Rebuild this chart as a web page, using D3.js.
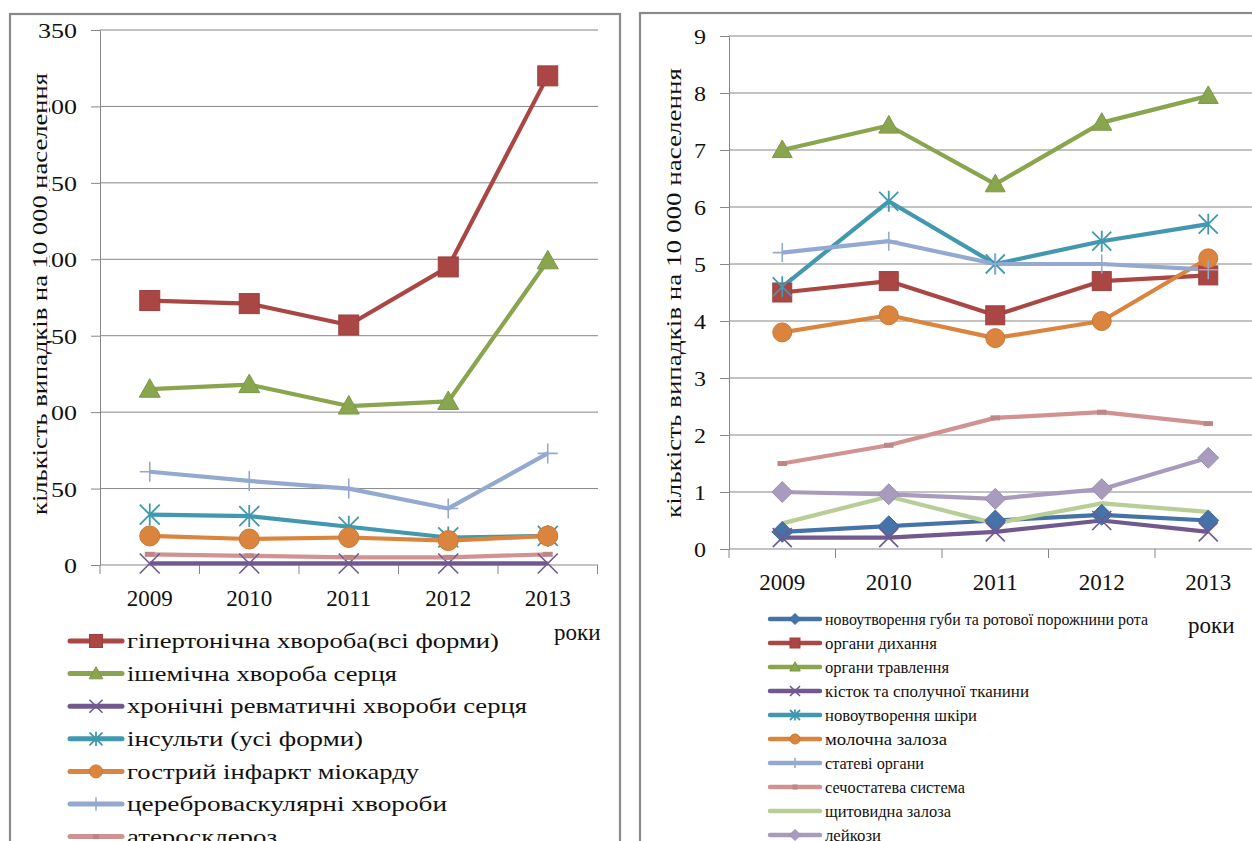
<!DOCTYPE html>
<html>
<head>
<meta charset="utf-8">
<script src="https://cdn.jsdelivr.net/npm/d3@7"></script>
<style>
  html, body { margin: 0; padding: 0; background: #fff; }
  svg { display: block; }
  svg text { font-family: "Liberation Serif", "Times New Roman", serif; }
</style>
</head>
<body>
<svg id="chart" width="1252" height="841"></svg>
<script>
// Years on the horizontal axis
const years = ["2009", "2010", "2011", "2012", "2013"];

// Circulatory diseases, cases per 10 000 population
const circNames = [
  "гіпертонічна хвороба(всі форми)",
  "ішемічна хвороба серця",
  "хронічні ревматичні хвороби серця",
  "інсульти (усі форми)",
  "гострий інфаркт міокарду",
  "цереброваскулярні хвороби",
  "атеросклероз"
];
const hypertension    = [173, 171, 157, 195, 320];
const ischemic        = [115, 118, 104, 107, 199];
const rheumatic       = [1, 1, 1, 1, 1];
const strokes         = [33, 32, 25, 18, 19];
const infarction      = [19, 17, 18, 16, 19];
const cerebrovascular = [61, 55, 50, 37, 73];
const atherosclerosis = [7, 6, 5, 5, 7];
const circTicks = [0, 50, 100, 150, 200, 250, 300, 350];

// Neoplasms by site, cases per 10 000 population
const neoNames = [
  "новоутворення губи та ротової порожнини рота",
  "органи дихання",
  "органи травлення",
  "кісток та сполучної тканини",
  "новоутворення шкіри",
  "молочна залоза",
  "статеві органи",
  "сечостатева система",
  "щитовидна залоза",
  "лейкози"
];
const lipOral     = [0.3, 0.4, 0.5, 0.6, 0.5];
const respiratory = [4.5, 4.7, 4.1, 4.7, 4.8];
const digestive   = [7.0, 7.43, 6.4, 7.48, 7.95];
const boneTissue  = [0.2, 0.2, 0.3, 0.5, 0.3];
const skin        = [4.6, 6.1, 5.0, 5.4, 5.7];
const breast      = [3.8, 4.1, 3.7, 4.0, 5.1];
const genital     = [5.2, 5.4, 5.0, 5.0, 4.9];
const urogenital  = [1.5, 1.82, 2.3, 2.4, 2.2];
const thyroid     = [0.45, 0.92, 0.45, 0.8, 0.65];
const leukemia    = [1.0, 0.96, 0.88, 1.05, 1.6];
const neoTicks = [0, 1, 2, 3, 4, 5, 6, 7, 8, 9];

const axisTitle = "кількість випадків на 10 000 населення";
const xTitle = "роки";

// Series styling
const circSeries = [
  { name: circNames[0], values: hypertension,    color: "#AA4643", marker: "square" },
  { name: circNames[1], values: ischemic,        color: "#89A54E", marker: "triangle" },
  { name: circNames[2], values: rheumatic,       color: "#71588F", marker: "x" },
  { name: circNames[3], values: strokes,         color: "#4198AF", marker: "star" },
  { name: circNames[4], values: infarction,      color: "#DB843D", marker: "circle" },
  { name: circNames[5], values: cerebrovascular, color: "#93A9CF", marker: "plus" },
  { name: circNames[6], values: atherosclerosis, color: "#D19392", marker: "dash" }
];
const neoSeries = [
  { name: neoNames[0], values: lipOral,     color: "#4572A7", marker: "diamond" },
  { name: neoNames[1], values: respiratory, color: "#AA4643", marker: "square" },
  { name: neoNames[2], values: digestive,   color: "#89A54E", marker: "triangle" },
  { name: neoNames[3], values: boneTissue,  color: "#71588F", marker: "x" },
  { name: neoNames[4], values: skin,        color: "#4198AF", marker: "star" },
  { name: neoNames[5], values: breast,      color: "#DB843D", marker: "circle" },
  { name: neoNames[6], values: genital,     color: "#93A9CF", marker: "plus" },
  { name: neoNames[7], values: urogenital,  color: "#D19392", marker: "dash" },
  { name: neoNames[8], values: thyroid,     color: "#B9CD96", marker: "none" },
  { name: neoNames[9], values: leukemia,    color: "#A99BBD", marker: "diamond" }
];

const serif = "Liberation Serif, Times New Roman, serif";
const svg = d3.select("#chart").attr("font-family", serif);
const gridColor = "#878787";

// Draws one marker of the given shape centred on (cx, cy)
function drawMarker(g, shape, cx, cy, size, color) {
  const h = size / 2;
  const dark = d3.color(color).darker(0.25).formatHex();
  switch (shape) {
    case "square":
      g.append("rect").attr("x", cx - h).attr("y", cy - h).attr("width", size).attr("height", size)
        .attr("fill", color).attr("stroke", dark).attr("stroke-width", 1);
      break;
    case "triangle":
      g.append("path").attr("d", `M${cx},${cy - h * 1.05}L${cx + h * 1.05},${cy + h * 0.8}L${cx - h * 1.05},${cy + h * 0.8}Z`)
        .attr("fill", color).attr("stroke", dark).attr("stroke-width", 1);
      break;
    case "circle":
      g.append("circle").attr("cx", cx).attr("cy", cy).attr("r", h)
        .attr("fill", color).attr("stroke", dark).attr("stroke-width", 1);
      break;
    case "diamond":
      g.append("path").attr("d", `M${cx},${cy - h * 1.1}L${cx + h * 1.1},${cy}L${cx},${cy + h * 1.1}L${cx - h * 1.1},${cy}Z`)
        .attr("fill", color).attr("stroke", dark).attr("stroke-width", 1);
      break;
    case "x":
      g.append("path").attr("d", `M${cx - h},${cy - h}L${cx + h},${cy + h}M${cx - h},${cy + h}L${cx + h},${cy - h}`)
        .attr("stroke", color).attr("stroke-width", 1.6).attr("fill", "none");
      break;
    case "star":
      g.append("path").attr("d", `M${cx - h},${cy - h}L${cx + h},${cy + h}M${cx - h},${cy + h}L${cx + h},${cy - h}M${cx},${cy - h * 1.1}L${cx},${cy + h * 1.1}`)
        .attr("stroke", color).attr("stroke-width", 1.8).attr("fill", "none");
      break;
    case "plus":
      g.append("path").attr("d", `M${cx - h},${cy}L${cx + h},${cy}M${cx},${cy - h}L${cx},${cy + h}`)
        .attr("stroke", color).attr("stroke-width", 1.6).attr("fill", "none");
      break;
    case "dash":
      g.append("rect").attr("x", cx - h * 0.5).attr("y", cy - 2.5).attr("width", h).attr("height", 5)
        .attr("fill", dark);
      break;
  }
}

// Builds one line chart panel
function drawPanel(cfg) {
  const g = svg.append("g");

  // panel frame
  g.append("rect").attr("x", cfg.frame[0]).attr("y", cfg.frame[1])
    .attr("width", cfg.frame[2]).attr("height", cfg.frame[3])
    .attr("fill", "none").attr("stroke", "#8a8a8a").attr("stroke-width", 2.2);

  const x = d3.scaleBand().domain(years).range([cfg.left, cfg.left + cfg.band * years.length]).padding(0);
  const y = d3.scaleLinear().domain(cfg.domain).range([cfg.bottom, cfg.top]);
  const cx = d => x(d) + x.bandwidth() / 2;

  // gridlines
  g.append("g").selectAll("line").data(cfg.ticks.filter(t => t !== 0)).join("line")
    .attr("x1", cfg.left).attr("x2", cfg.gridEnd)
    .attr("y1", d => y(d)).attr("y2", d => y(d))
    .attr("stroke", gridColor).attr("stroke-width", 1);

  // y axis
  const yAxis = g.append("g").attr("transform", `translate(${cfg.left},0)`)
    .call(d3.axisLeft(y).tickValues(cfg.ticks).tickSize(9).tickSizeOuter(0).tickPadding(cfg.yPad));
  yAxis.attr("font-family", serif);
  yAxis.select(".domain").attr("stroke", gridColor);
  yAxis.selectAll(".tick line").attr("stroke", gridColor);
  yAxis.selectAll(".tick text").attr("font-size", cfg.tickFont).attr("fill", "#111")
    .attr("dy", "0.34em")
    .attr("textLength", d => String(d).length * cfg.digitW)
    .attr("lengthAdjust", "spacingAndGlyphs");

  // x axis
  const xAxis = g.append("g").attr("transform", `translate(0,${cfg.bottom})`);
  xAxis.append("line").attr("x1", cfg.left).attr("x2", cfg.gridEnd)
    .attr("y1", 0).attr("y2", 0).attr("stroke", gridColor);
  const bounds = years.map(d => x(d)).concat([x(years[years.length - 1]) + x.bandwidth()]);
  xAxis.selectAll("line.tk").data(bounds).join("line").attr("class", "tk")
    .attr("x1", d => d).attr("x2", d => d).attr("y1", 0).attr("y2", 9).attr("stroke", gridColor);
  xAxis.selectAll("text").data(years).join("text")
    .attr("x", d => cx(d)).attr("y", cfg.xLabelGap).attr("text-anchor", "middle")
    .attr("font-size", 23).attr("fill", "#111").text(d => d);

  // y axis title (masks whatever sits beneath it)
  const tg = g.append("g").attr("transform", `translate(${cfg.titleX},${cfg.titleY}) rotate(-90)`);
  if (cfg.titleMask) {
    tg.append("rect").attr("x", -cfg.titleLen / 2).attr("y", -9).attr("width", cfg.titleLen).attr("height", 18).attr("fill", "#fff");
  }
  tg.append("text").attr("x", 0).attr("y", 0).attr("text-anchor", "middle")
    .attr("font-size", 21).attr("fill", "#111")
    .attr("textLength", cfg.titleLen).attr("lengthAdjust", "spacingAndGlyphs")
    .attr("dy", "0.32em").text(axisTitle);

  // lines
  const line = d3.line().x((d, i) => cx(years[i])).y(d => y(d));
  cfg.series.forEach(s => {
    g.append("path").datum(s.values).attr("d", line)
      .attr("fill", "none").attr("stroke", s.color).attr("stroke-width", cfg.lineW)
      .attr("stroke-linejoin", "round");
  });
  // markers on top of lines
  cfg.series.forEach(s => {
    const mg = g.append("g");
    s.values.forEach((v, i) => drawMarker(mg, s.marker, cx(years[i]), y(v), cfg.markerSize, s.color));
  });

  // legend
  cfg.series.forEach((s, i) => {
    const ly = cfg.legendY + i * cfg.legendStep;
    const lg = g.append("g");
    lg.append("line").attr("x1", cfg.legendX).attr("x2", cfg.legendX + cfg.legendLine)
      .attr("y1", ly).attr("y2", ly).attr("stroke", s.color).attr("stroke-width", cfg.legendW)
      .attr("stroke-linecap", "round");
    drawMarker(lg, s.marker, cfg.legendX + cfg.legendLine / 2, ly, cfg.legendMarker, s.color);
    lg.append("text").attr("x", cfg.legendX + cfg.legendLine + 5).attr("y", ly)
      .attr("dy", "0.33em").attr("font-size", cfg.legendFont).attr("fill", "#111")
      .attr("textLength", cfg.legendLen[i]).attr("lengthAdjust", "spacingAndGlyphs")
      .text(s.name);
  });

  // x axis title
  g.append("text").attr("x", cfg.xTitleX).attr("y", cfg.xTitleY).attr("font-size", 23)
    .attr("fill", "#111").attr("dy", "0.33em").text(xTitle);
}

drawPanel({
  frame: [10, 14, 610, 850],
  left: 100, band: 99.5, gridEnd: 598,
  top: 30, bottom: 565, domain: [0, 350], ticks: circTicks,
  yPad: 14, tickFont: 22, digitW: 13, xLabelGap: 41,
  titleX: 40, titleY: 294, titleLen: 442, titleMask: true,
  lineW: 4.2, markerSize: 20,
  series: circSeries,
  legendX: 70, legendLine: 52, legendW: 5, legendMarker: 13,
  legendY: 641, legendStep: 32.6, legendFont: 22,
  legendLen: [372, 270, 400, 236, 292, 320, 150],
  xTitleX: 554, xTitleY: 632
});

drawPanel({
  frame: [640, 13, 640, 850],
  left: 729, band: 106.5, gridEnd: 1252,
  top: 36, bottom: 549, domain: [0, 9], ticks: neoTicks,
  yPad: 14, tickFont: 22, digitW: 12, xLabelGap: 41,
  titleX: 674, titleY: 293, titleLen: 450, titleMask: false,
  lineW: 4.2, markerSize: 19,
  series: neoSeries,
  legendX: 770, legendLine: 50, legendW: 4.5, legendMarker: 10,
  legendY: 619, legendStep: 24, legendFont: 17,
  legendLen: [323, 112, 124, 204, 152, 122, 99, 140, 126, 56],
  xTitleX: 1188, xTitleY: 625
});
</script>
</body>
</html>
